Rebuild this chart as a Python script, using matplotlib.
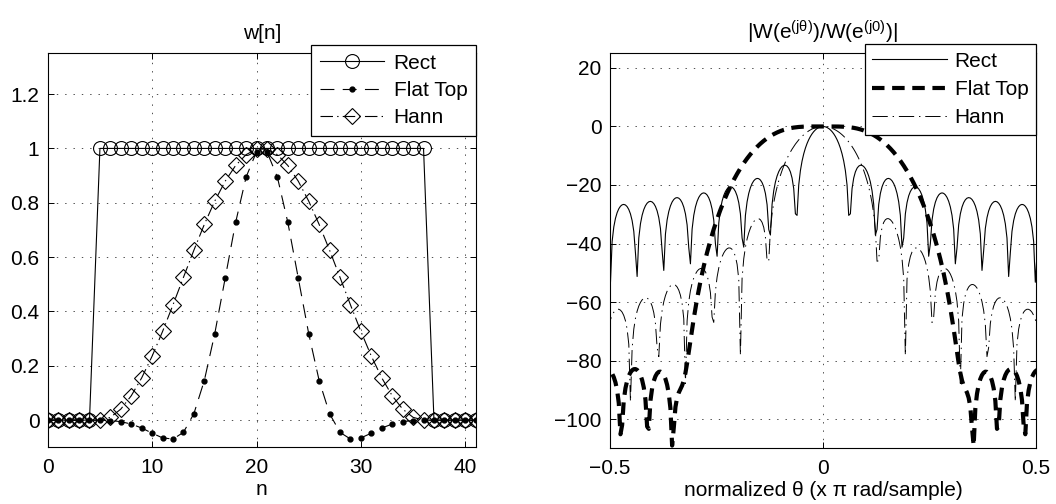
import numpy as np
import matplotlib
matplotlib.use('Agg')
from matplotlib import pyplot as plt

plt.rcParams['font.family'] = ['Liberation Sans', 'DejaVu Sans']
plt.rcParams['mathtext.fontset'] = 'custom'
plt.rcParams['mathtext.rm'] = 'Liberation Sans'
plt.rcParams['mathtext.it'] = 'Liberation Sans'
plt.rcParams['mathtext.default'] = 'regular'
plt.rcParams['lines.scale_dashes'] = False

# sample index n = 0..41
n = np.arange(42)

# window samples (32 point windows placed at n=5..36)
rect = [0, 0, 0, 0, 0,
        1, 1, 1, 1, 1, 1, 1, 1, 1, 1, 1, 1, 1, 1, 1, 1,
        1, 1, 1, 1, 1, 1, 1, 1, 1, 1, 1, 1, 1, 1, 1, 1,
        0, 0, 0, 0, 0]

flattop = [0, 0, 0, 0, 0,
           -0.000421, -0.001543, -0.005642, -0.014404, -0.029005, -0.048012,
           -0.065366, -0.069548, -0.045011, 0.023676, 0.145737, 0.318225,
           0.522847, 0.727695, 0.894243, 0.987791,
           0.987791, 0.894243, 0.727695, 0.522847,
           0.318225, 0.145737, 0.023676, -0.045011, -0.069548, -0.065366,
           -0.048012, -0.029005, -0.014404, -0.005642, -0.001543, -0.000421,
           0, 0, 0, 0, 0]

hann = [0, 0, 0, 0, 0,
        0.0, 0.010235, 0.040521, 0.089618, 0.155517, 0.235518,
        0.326347, 0.424286, 0.525325, 0.625326, 0.720197, 0.806053,
        0.879379, 0.937173, 0.977070, 0.997435,
        0.997435, 0.977070, 0.937173, 0.879379,
        0.806053, 0.720197, 0.625326, 0.525325, 0.424286, 0.326347,
        0.235518, 0.155517, 0.089618, 0.040521, 0.010235, 0.0,
        0, 0, 0, 0, 0]

labels = ['Rect', 'Flat Top', 'Hann']

# frequency grid, in units of pi rad/sample
theta = np.linspace(-1, 1, 512)


def dtft_db(w):
    # |W(e^jtheta)/W(e^j0)| in dB
    w = np.asarray(w, dtype=float)
    W = np.exp(-1j * np.pi * np.outer(theta, n)) @ w
    return 20 * np.log10(np.abs(W) / abs(w.sum()) + 1e-300)


def style_axes(ax):
    ax.grid(True, color='0.3', linestyle=(0, (1, 5)), linewidth=0.7)
    ax.tick_params(direction='in', top=True, right=True, length=4,
                   width=0.7, labelsize=15)
    ax.tick_params(axis='x', pad=8)
    ax.tick_params(axis='y', pad=6)
    for s in ax.spines.values():
        s.set_linewidth(0.8)
        s.set_color('k')


fig = plt.figure(figsize=(10.56, 5.04), dpi=100)
ax1 = fig.add_axes([0.0452, 0.1125, 0.4053, 0.7817])
ax2 = fig.add_axes([0.5777, 0.1105, 0.4031, 0.7837])

# left: the windows
ax1.plot(n, rect, '-', color='k', lw=0.8, marker='o', ms=10,
         mfc='none', mec='k', mew=0.8, label=labels[0])
ax1.plot(n, flattop, color='k', lw=0.8, dashes=(10, 6), marker='.',
         ms=7, mfc='k', mec='k', label=labels[1])
ax1.plot(n, hann, color='k', lw=0.8, dashes=(9, 3, 1, 3), marker='D',
         ms=8.5, mfc='none', mec='k', mew=0.8, label=labels[2])
ax1.set_xlim(0, 41)
ax1.set_ylim(-0.1, 1.35)
ax1.set_xticks([0, 10, 20, 30, 40])
ax1.set_yticks([0, 0.2, 0.4, 0.6, 0.8, 1.0, 1.2])
ax1.set_yticklabels(['0', '0.2', '0.4', '0.6', '0.8', '1', '1.2'])
ax1.set_title('w[n]', fontsize=15, pad=10)
ax1.set_xlabel('n', fontsize=15, labelpad=2)
style_axes(ax1)
leg1 = ax1.legend(loc='upper right', bbox_to_anchor=(1.0, 1.02),
                  borderaxespad=0, fontsize=15, handlelength=3.1,
                  handletextpad=0.45, labelspacing=0.4, borderpad=0.4,
                  numpoints=1, fancybox=False, framealpha=1, edgecolor='k')
leg1.get_frame().set_linewidth(0.9)

# right: normalised magnitude spectra
ax2.plot(theta, dtft_db(rect), '-', color='k', lw=0.8, label=labels[0])
ax2.plot(theta, dtft_db(flattop), color='k', lw=3, dashes=(9, 5.5),
         label=labels[1])
ax2.plot(theta, dtft_db(hann), color='k', lw=0.7, dashes=(11, 3.5, 1, 3.5),
         label=labels[2])
ax2.set_xlim(-0.5, 0.5)
ax2.set_ylim(-110, 25)
ax2.set_xticks([-0.5, 0, 0.5])
ax2.set_xticklabels(['\u22120.5', '0', '0.5'])
ax2.set_yticks([-100, -80, -60, -40, -20, 0, 20])
ax2.set_title(r'|W(e$^{(j\theta)}$)/W(e$^{(j0)}$)|', fontsize=15, pad=10)
ax2.set_xlabel('normalized \u03b8 (x \u03c0 rad/sample)', fontsize=15,
               labelpad=2)
style_axes(ax2)
leg2 = ax2.legend(loc='upper right', bbox_to_anchor=(1.0, 1.023),
                  borderaxespad=0, fontsize=15, handlelength=3.6,
                  handletextpad=0.35, labelspacing=0.45, borderpad=0.35,
                  fancybox=False, framealpha=1, edgecolor='k')
leg2.get_frame().set_linewidth(0.9)

fig.savefig('out.png', dpi=100)
